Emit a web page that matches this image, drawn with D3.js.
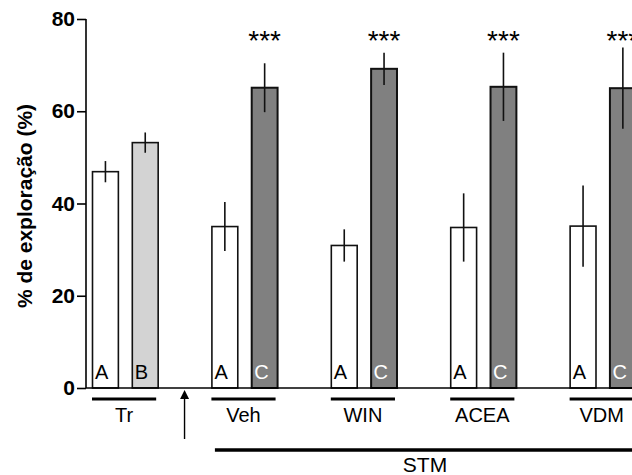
<!DOCTYPE html>
<html>
<head>
<meta charset="utf-8">
<script src="https://cdn.jsdelivr.net/npm/d3@7"></script>
<style>
  body { margin: 0; background: #fff; }
  text { font-family: Arial, "Liberation Sans", sans-serif; }
</style>
</head>
<body>
<div id="chart"></div>
<script>
// data
var groups = ["Tr", "Veh", "WIN", "ACEA", "VDM"];
var barSlots = [0, 1, 3, 4, 6, 7, 9, 10, 12, 13];
var barValues = [46.9, 53.2, 35.0, 65.1, 30.9, 69.2, 34.8, 65.3, 35.1, 65.0];
var barErrors = [2.3, 2.2, 5.3, 5.3, 3.5, 3.5, 7.4, 7.4, 8.8, 8.8];
var barLetters = ["A", "B", "A", "C", "A", "C", "A", "C", "A", "C"];
var barKinds = ["white", "light", "white", "dark", "white", "dark", "white", "dark", "white", "dark"];
var starred = [false, false, false, true, false, true, false, true, false, true];
var yTicks = [0, 20, 40, 60, 80];

var W = 632, H = 475;
var fills = { white: "#ffffff", light: "#d3d3d3", dark: "#808080" };
var letterColors = { white: "#000", light: "#000", dark: "#fff" };

var svg = d3.select("#chart").append("svg")
  .attr("width", W)
  .attr("height", H);

var x = d3.scaleBand()
  .domain(d3.range(14))
  .range([92.5, 635.8])
  .paddingInner(0.35)
  .paddingOuter(0);

var y = d3.scaleLinear()
  .domain([0, 80])
  .range([388, 19]);

// bars
var bars = svg.append("g");
barSlots.forEach(function (s, i) {
  var k = barKinds[i];
  bars.append("rect")
    .attr("x", x(s))
    .attr("y", y(barValues[i]))
    .attr("width", x.bandwidth())
    .attr("height", y(0) - y(barValues[i]))
    .attr("fill", fills[k])
    .attr("stroke", "#111")
    .attr("stroke-width", k == "dark" ? 2 : 1.6);

  // error bar
  bars.append("line")
    .attr("x1", x(s) + x.bandwidth() / 2)
    .attr("x2", x(s) + x.bandwidth() / 2)
    .attr("y1", y(barValues[i] + barErrors[i]))
    .attr("y2", y(barValues[i] - barErrors[i]))
    .attr("stroke", "#111")
    .attr("stroke-width", 1.6);

  bars.append("text")
    .attr("x", x(s) + 2.5)
    .attr("y", 379)
    .attr("font-size", "20px")
    .attr("fill", letterColors[k])
    .text(barLetters[i]);

  if (starred[i]) {
    bars.append("text")
      .attr("x", x(s) + x.bandwidth() / 2)
      .attr("y", 50)
      .attr("text-anchor", "middle")
      .attr("font-size", "28px")
      .text("***");
  }
});

// y axis
var yAxis = svg.append("g")
  .attr("transform", "translate(86,0)")
  .call(d3.axisLeft(y).tickValues(yTicks).tickSize(9).tickPadding(2));
yAxis.select(".domain").attr("stroke", "#000").attr("stroke-width", 1.6)
  .attr("d", "M0," + y(80) + "V" + y(0));
yAxis.selectAll(".tick line").attr("stroke", "#000").attr("stroke-width", 1.6);
yAxis.selectAll(".tick text")
  .attr("font-size", "21px")
  .attr("font-weight", "bold")
  .attr("fill", "#000")
  .attr("font-family", "Arial, 'Liberation Sans', sans-serif");

// x baseline
svg.append("line")
  .attr("x1", 86).attr("x2", W)
  .attr("y1", y(0)).attr("y2", y(0))
  .attr("stroke", "#000").attr("stroke-width", 1.6);

// y label
svg.append("text")
  .attr("transform", "translate(32," + 206 + ") rotate(-90)")
  .attr("text-anchor", "middle")
  .attr("font-size", "21px")
  .attr("font-weight", "bold")
  .text("% de exploração (%)");

// group underlines and labels
groups.forEach(function (g, i) {
  var a = barSlots[i * 2], c = barSlots[i * 2 + 1];
  var x1 = x(a) - 0.5, x2 = x(c) + x.bandwidth() - 2;
  svg.append("line")
    .attr("x1", x1).attr("x2", x2)
    .attr("y1", 399).attr("y2", 399)
    .attr("stroke", "#000").attr("stroke-width", 3);
  svg.append("text")
    .attr("x", (x1 + x2) / 2)
    .attr("y", 421.5)
    .attr("text-anchor", "middle")
    .attr("font-size", "20px")
    .text(g);
});

// STM bracket
svg.append("line")
  .attr("x1", x(3) + 3).attr("x2", W)
  .attr("y1", 450).attr("y2", 450)
  .attr("stroke", "#000").attr("stroke-width", 3.5);
svg.append("text")
  .attr("x", 425)
  .attr("y", 472)
  .attr("text-anchor", "middle")
  .attr("font-size", "21px")
  .text("STM");

// arrow between training and test
var ax = (x(1) + x.bandwidth() + x(3)) / 2 - 0.5;
svg.append("line")
  .attr("x1", ax).attr("x2", ax)
  .attr("y1", 439).attr("y2", 397)
  .attr("stroke", "#000").attr("stroke-width", 1.4);
svg.append("path")
  .attr("d", "M" + ax + ",390 L" + (ax - 4.5) + ",399 L" + (ax + 4.5) + ",399 Z")
  .attr("fill", "#000");
</script>
</body>
</html>
